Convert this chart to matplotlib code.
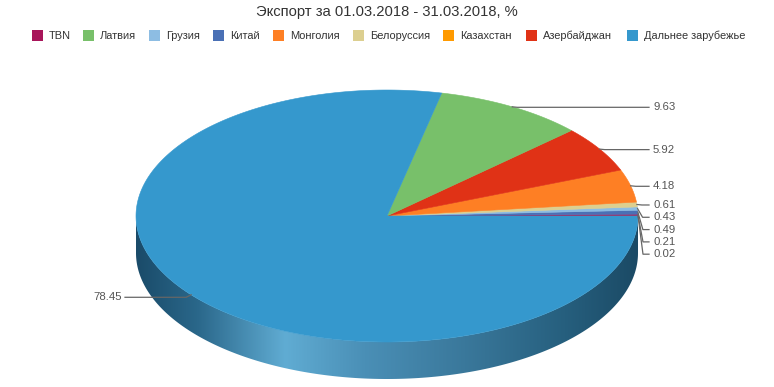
"""
3D-style pie: export share by destination, 01.03.2018 - 31.03.2018.
Drawn by hand in pixel coordinates so the tilted pie and its side wall look
like the original web chart.
"""

import numpy as np
import matplotlib.pyplot as plt
from matplotlib.patches import Polygon, Rectangle

plt.rcParams["font.family"] = ["Liberation Sans", "DejaVu Sans"]

# ---------------------------------------------------------------------------
# Data
# ---------------------------------------------------------------------------
TITLE = "Экспорт за 01.03.2018 - 31.03.2018, %"

# legend order
LEGEND_NAMES = ["TBN", "Латвия", "Грузия", "Китай", "Монголия", "Белоруссия",
                "Казахстан", "Азербайджан", "Дальнее зарубежье"]

# slice order, counter-clockwise from 3 o'clock
SLICE_NAMES  = ["Казахстан", "TBN", "Китай", "Грузия", "Белоруссия",
                "Монголия", "Азербайджан", "Латвия", "Дальнее зарубежье"]
SLICE_VALUES = [0.02, 0.21, 0.49, 0.43, 0.61, 4.18, 5.92, 9.63, 78.45]

COLORS = {
    "TBN": "#a8155a",
    "Латвия": "#78c06a",
    "Грузия": "#8dbde3",
    "Китай": "#4a70b5",
    "Монголия": "#fe7f24",
    "Белоруссия": "#dccf90",
    "Казахстан": "#ff9a00",
    "Азербайджан": "#e03216",
    "Дальнее зарубежье": "#3598cd",
}

# ---------------------------------------------------------------------------
# Geometry (pixels)
# ---------------------------------------------------------------------------
W, H = 774, 387
CX, CY = 387, 216
RX, RY = 251, 126
DEPTH = 37
LABEL_GAP = 12.3

# side wall shading, x position -> colour
SIDE_X = [136, 197, 285, 365, 465, 565, 638]
SIDE_C = [(26, 75, 105), (42, 103, 138), (96, 172, 211), (74, 143, 182),
          (58, 120, 155), (38, 95, 126), (27, 74, 101)]


def rim(theta):
    return CX + RX * np.cos(theta), CY - RY * np.sin(theta)


fig = plt.figure(figsize=(W / 100, H / 100), dpi=100)
ax = fig.add_axes([0, 0, 1, 1])
ax.set_xlim(0, W)
ax.set_ylim(H, 0)
ax.axis("off")

# --- side wall (front half only): gradient image clipped to the wall ---
thetas = np.linspace(np.pi, 2 * np.pi, 300)
top_edge = [rim(t) for t in thetas]
wall = top_edge + [(x, y + DEPTH) for x, y in top_edge[::-1]]
wall_patch = Polygon(wall, closed=True, fc="none", ec="none")
ax.add_patch(wall_patch)

gx = np.arange(CX - RX - 2, CX + RX + 3)
grad = np.stack([np.interp(gx, SIDE_X, [s[i] for s in SIDE_C]) / 255
                 for i in range(3)], axis=-1)[None, :, :]
img = ax.imshow(grad, extent=(gx[0], gx[-1], CY + RY + DEPTH + 2, CY - 2),
                aspect="auto", interpolation="bilinear", zorder=1)
img.set_clip_path(wall_patch)
ax.set_xlim(0, W)
ax.set_ylim(H, 0)

# --- top face ---
total = sum(SLICE_VALUES)
starts = np.concatenate([[0], np.cumsum(SLICE_VALUES)[:-1]]) / total * 2 * np.pi
spans = np.array(SLICE_VALUES) / total * 2 * np.pi
for name, a0, da in zip(SLICE_NAMES, starts, spans):
    ts = np.linspace(a0, a0 + da, max(3, int(da * 80)))
    pts = [(CX, CY)] + [rim(t) for t in ts]
    ax.add_patch(Polygon(pts, closed=True, fc=COLORS[name], ec=COLORS[name],
                         lw=0.4, zorder=2))

# --- data labels with connectors ---
mids = starts + spans / 2
anchors = [rim(m) for m in mids]
right = [i for i, (x, y) in enumerate(anchors) if x >= CX]
left = [i for i, (x, y) in enumerate(anchors) if x < CX]

label_y = {}
prev = -1e9
for i in sorted(right, key=lambda k: anchors[k][1]):
    y = max(anchors[i][1] + 0.5, prev + LABEL_GAP)
    label_y[i] = y
    prev = y
prev = -1e9
for i in sorted(left, key=lambda k: anchors[k][1]):
    y = max(anchors[i][1] + 2.5, prev + LABEL_GAP)
    label_y[i] = y
    prev = y

for i, (ax_x, ax_y) in enumerate(anchors):
    ly = label_y[i]
    if i in right:
        lx = 653
        path = [(ax_x, ax_y), (ax_x + 5, ly), (lx - 4, ly)]
        ha = "left"
    else:
        lx = 122
        path = [(ax_x, ax_y), (ax_x - 5, ly), (lx + 3, ly)]
        ha = "right"
    xs, ys = zip(*path)
    ax.plot(xs, ys, color="#666666", lw=0.9, zorder=5)
    ax.text(lx, ly, f"{SLICE_VALUES[i]:.2f}", ha=ha, va="center",
            fontsize=8.2, color="#555555", zorder=6)

# --- title ---
ax.text(W / 2, 12, TITLE, ha="center", va="center", fontsize=10.6, color="#333333")

# --- legend ---
LEGEND_X = [32, 83, 149, 213, 273, 353, 443, 526, 627]
for name, lx in zip(LEGEND_NAMES, LEGEND_X):
    ax.add_patch(Rectangle((lx, 30), 11, 11, fc=COLORS[name], ec="none", zorder=3))
    ax.text(lx + 17, 36, name, ha="left", va="center", fontsize=7.9,
            color="#333333")

fig.savefig("out.png", dpi=100)
